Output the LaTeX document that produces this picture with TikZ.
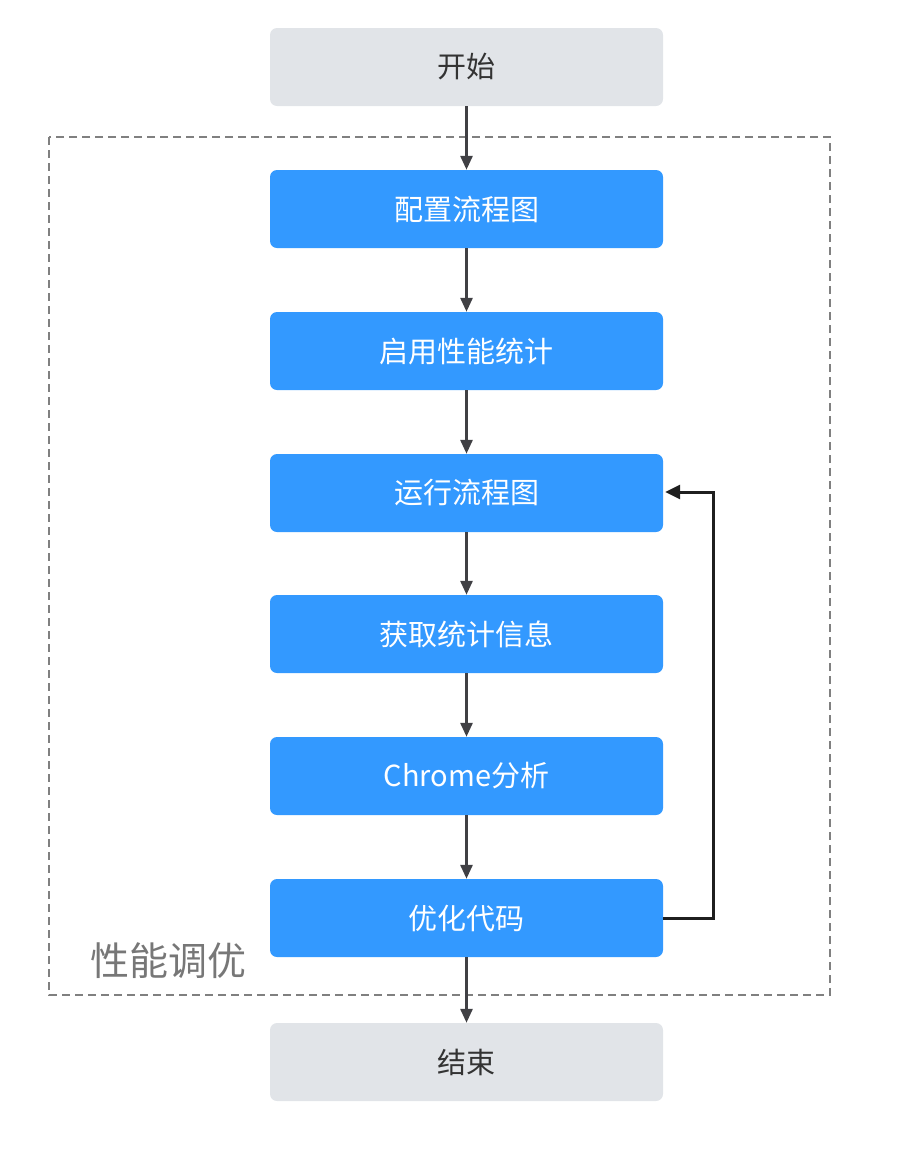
\documentclass[tikz,border=0pt]{standalone}
\usepackage{fontspec}
\setmainfont{Noto Sans CJK SC}
\usetikzlibrary{arrows.meta}
\definecolor{bluebox}{HTML}{3399FF}
\definecolor{greybox}{HTML}{E1E4E8}
\definecolor{greytext}{HTML}{333333}
\definecolor{arrowc}{HTML}{404044}
\definecolor{framec}{HTML}{808080}
\definecolor{labelc}{HTML}{777777}
\tikzset{
  bluestep/.style={rectangle, rounded corners=7pt, fill=bluebox, draw=none, text=white,
    minimum width=393pt, minimum height=78pt, inner sep=0pt, font=\fontsize{29}{33}\selectfont},
  greystep/.style={rectangle, rounded corners=7pt, fill=greybox, draw=none, text=greytext,
    minimum width=393pt, minimum height=78pt, inner sep=0pt, font=\fontsize{29}{33}\selectfont},
  flow/.style={draw=arrowc, line width=2.8pt, -{Triangle[width=12pt,length=14pt]}},
  back/.style={draw=black!88, line width=3pt, -{Triangle[width=14pt,length=15pt]}},
}
\begin{document}
\begin{tikzpicture}[x=1pt,y=-1pt]
\useasboundingbox (0,0) rectangle (901,1157);
\draw[framec, line width=2pt, dash pattern=on 8pt off 5pt] (49,137) rectangle (830,995);
\node[text=labelc, font=\fontsize{39}{43}\selectfont] (lbl) at (168,961) {性能调优};
\node[greystep] (start) at (466.5,67) {开始};
\node[bluestep] (n1) at (466.5,209) {配置流程图};
\node[bluestep] (n2) at (466.5,351) {启用性能统计};
\node[bluestep] (n3) at (466.5,493) {运行流程图};
\node[bluestep] (n4) at (466.5,634) {获取统计信息};
\node[bluestep] (n5) at (466.5,776) {Chrome分析};
\node[bluestep] (n6) at (466.5,918) {优化代码};
\node[greystep] (end) at (466.5,1062) {结束};
\draw[flow] (start) -- (n1);
\draw[flow] (n1) -- (n2);
\draw[flow] (n2) -- (n3);
\draw[flow] (n3) -- (n4);
\draw[flow] (n4) -- (n5);
\draw[flow] (n5) -- (n6);
\draw[flow] (n6) -- (end);
\coordinate (r) at (713,918);
\draw[back] (n6.east) -- (r) -- (713,492) -- ([xshift=2pt]n3.east |- 0,492);
\end{tikzpicture}
\end{document}
